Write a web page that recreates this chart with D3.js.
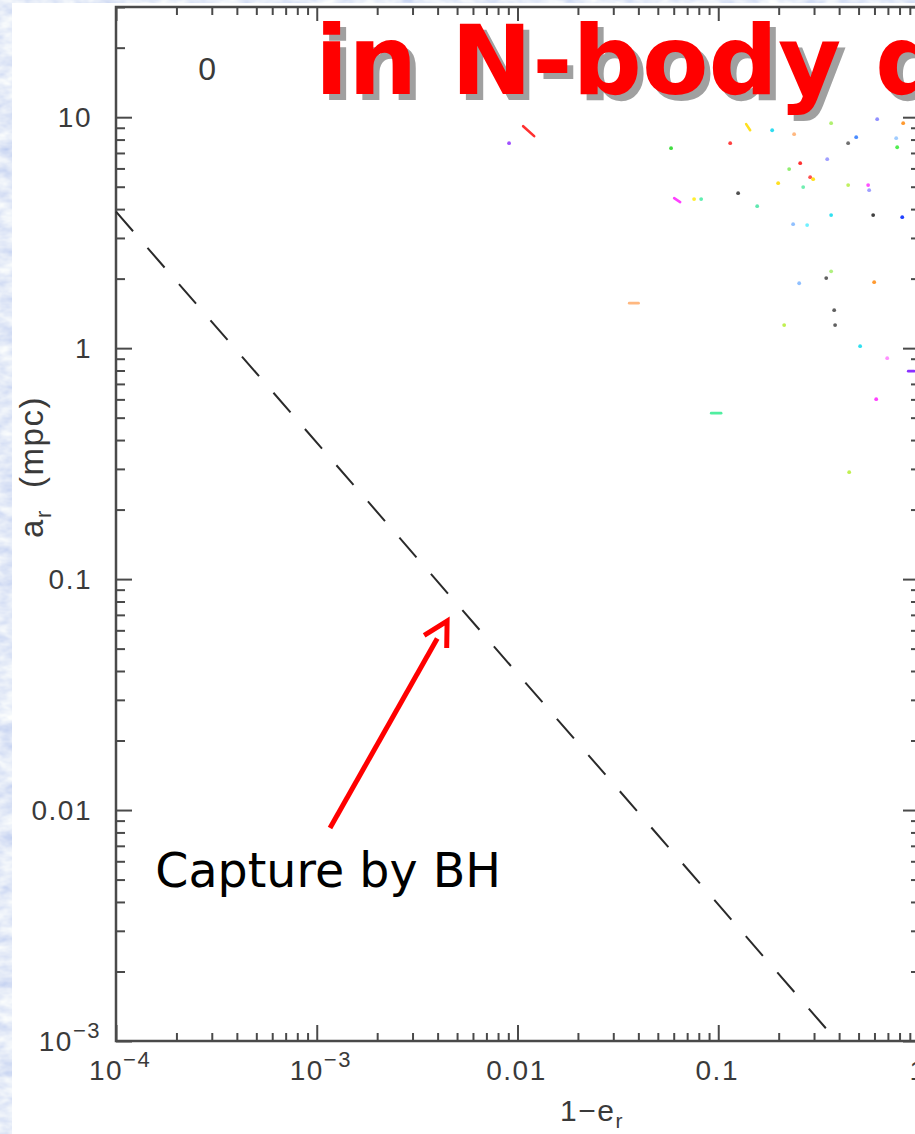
<!DOCTYPE html>
<html>
<head>
<meta charset="utf-8">
<script src="https://cdn.jsdelivr.net/npm/d3@7"></script>
<style>
  html, body { margin: 0; padding: 0; overflow: hidden; background: #fff; }
  svg { display: block; }
  .lbl { font-family: "Liberation Sans", Arial, sans-serif; fill: #3a3a3a; letter-spacing: 1.5px; }
</style>
</head>
<body>
<svg id="chart" width="915" height="1134"></svg>
<script>
(function () {
  "use strict";

  // axis ticks : x = 1 - e_r, y = a_r (mpc)
  const xTicks = [1e-4, 1e-3, 0.01, 0.1, 1];
  const xTickBase = ['10', '10', '0.01', '0.1', '1'];
  const xTickExp = ['\u22124', '\u22123', '', '', ''];
  const yTicks = [1e-3, 0.01, 0.1, 1, 10];
  const yTickBase = ['10', '0.01', '0.1', '1', '10'];
  const yTickExp = ['\u22123', '', '', '', ''];

  // single stars (1-e_r, a_r)
  const dotX = [0.00908, 0.0582, 0.1856, 0.2388, 0.365, 0.619, 0.834, 0.1147, 0.4866, 0.4437,
    0.7697, 0.7786, 0.256, 0.349, 0.2255, 0.287, 0.297, 0.1988, 0.2649, 0.4437,
    0.558, 0.5646, 0.1256, 0.0758, 0.0822, 0.1563, 0.365, 0.591, 0.825, 0.236,
    0.2772, 0.365, 0.345, 0.253, 0.598, 0.378, 0.382, 0.213, 0.509, 0.6945,
    0.612, 0.449];
  const dotY = [7.72, 7.34, 8.78, 8.44, 9.42, 9.80, 9.42, 7.72, 8.19, 7.72,
    8.11, 7.41, 6.32, 6.58, 5.96, 5.50, 5.39, 5.18, 4.98, 5.08,
    5.08, 4.83, 4.69, 4.42, 4.42, 4.12, 3.77, 3.77, 3.69, 3.44,
    3.41, 2.15, 2.01, 1.91, 1.93, 1.46, 1.258, 1.258, 1.02, 0.905,
    0.601, 0.2905];
  const dotColor = ['#a050ff', '#40dd40', '#30dcf0', '#ffb880', '#b0f070', '#9090ff', '#ff9a30', '#ff4040', '#4a8cff', '#707070',
    '#a0ccff', '#50ee50', '#ff3030', '#a0a0ff', '#90ee70', '#ff5050', '#ffe020', '#ffe020', '#70eeb0', '#c0f060',
    '#ff50ff', '#a0a0ff', '#505050', '#ffee30', '#60eeb0', '#60e8b0', '#30e0f0', '#404040', '#2040ff', '#90c0ff',
    '#70f0ff', '#b0f080', '#606060', '#90c0ff', '#ff9a30', '#606060', '#606060', '#c0f050', '#30e0f0', '#ff90ff',
    '#ff40ff', '#c0f050'];

  // short tracks (start -> end)
  const trackX1 = [0.01067, 0.1377, 0.0603, 0.0360, 0.0922, 0.8835];
  const trackY1 = [9.14, 9.33, 4.46, 1.566, 0.523, 0.795];
  const trackX2 = [0.01211, 0.1442, 0.0646, 0.0401, 0.1034, 0.9465];
  const trackY2 = [8.28, 8.78, 4.29, 1.566, 0.523, 0.795];
  const trackColor = ['#ff3030', '#ffe020', '#ff40ff', '#ffb880', '#50eea0', '#8a30ff'];

  // capture by BH boundary, a(1-e) = const
  const captureX = [1e-4, 0.39];
  const captureY = [3.9, 1e-3];

  // annotation anchors (data coords)
  const arrowFrom = [0.001164, 0.00836];
  const arrowTo = [0.00446, 0.0658];
  const noteAt = [1.57e-4, 0.00464];

  let svg = d3.select('#chart'),
    width = +svg.attr('width'),
    height = +svg.attr('height'),
    plotLeft = 116,
    plotRight = 919,
    plotTop = 7,
    plotBottom = 1041;

  /*
   * background : slide texture + white panel
   */
  let defs = svg.append('defs');
  let marble = defs.append('filter').attr('id', 'marble')
    .attr('x', 0).attr('y', 0).attr('width', 1).attr('height', 1);
  marble.append('feTurbulence')
    .attr('type', 'fractalNoise')
    .attr('baseFrequency', '0.05 0.09')
    .attr('numOctaves', 3)
    .attr('seed', 7);
  marble.append('feColorMatrix')
    .attr('type', 'matrix')
    .attr('values', '0.6 0 0 0 0.48  0.5 0 0 0 0.58  0.15 0 0 0 0.86  0 0 0 0 1');

  svg.append('rect')
    .attr('width', width).attr('height', height)
    .attr('fill', '#c4d4f2');
  svg.append('rect')
    .attr('width', width).attr('height', height)
    .attr('filter', 'url(#marble)');
  svg.append('rect')
    .attr('x', 12).attr('y', 3)
    .attr('width', width - 12).attr('height', height - 3)
    .attr('fill', '#fff');

  /*
   * scales
   */
  let scaleX = d3.scaleLog()
    .domain([1e-4, 1])
    .range([plotLeft, plotRight]);

  let scaleY = d3.scaleLog()
    .domain([1e-3, 30])
    .range([plotBottom, plotTop]);

  function isMajor(v) {
    let l = Math.log10(v);
    return Math.abs(l - Math.round(l)) < 1e-6;
  }
  let xMinor = scaleX.ticks().filter(function (d) { return !isMajor(d); });
  let yMinor = scaleY.ticks().filter(function (d) { return !isMajor(d); });
  let yMajor = scaleY.ticks().filter(isMajor);

  /*
   * axes (ticks on all four sides, pointing inward)
   */
  function tickGroup(axis, transform) {
    svg.append('g')
      .attr('transform', transform)
      .attr('color', '#4a4a4a')
      .call(axis)
      .call(function (g) {
        g.select('.domain').remove();
        g.selectAll('line').attr('stroke-width', 2);
        g.selectAll('text').remove();
      });
  }

  tickGroup(d3.axisBottom(scaleX).tickValues(xTicks).tickSize(-16), 'translate(0,' + plotBottom + ')');
  tickGroup(d3.axisBottom(scaleX).tickValues(xMinor).tickSize(-8), 'translate(0,' + plotBottom + ')');
  tickGroup(d3.axisTop(scaleX).tickValues(xTicks).tickSize(-14), 'translate(0,' + plotTop + ')');
  tickGroup(d3.axisTop(scaleX).tickValues(xMinor).tickSize(-8), 'translate(0,' + plotTop + ')');
  tickGroup(d3.axisLeft(scaleY).tickValues(yMajor).tickSize(-16), 'translate(' + plotLeft + ',0)');
  tickGroup(d3.axisLeft(scaleY).tickValues(yMinor).tickSize(-9), 'translate(' + plotLeft + ',0)');
  tickGroup(d3.axisRight(scaleY).tickValues(yMajor).tickSize(-16), 'translate(' + plotRight + ',0)');
  tickGroup(d3.axisRight(scaleY).tickValues(yMinor).tickSize(-8), 'translate(' + plotRight + ',0)');

  svg.append('rect')
    .attr('x', plotLeft).attr('y', plotTop)
    .attr('width', plotRight - plotLeft)
    .attr('height', plotBottom - plotTop)
    .attr('fill', 'none')
    .attr('stroke', '#4a4a4a')
    .attr('stroke-width', 2.5);

  /*
   * tick labels
   */
  let xLabels = svg.append('g').attr('class', 'lbl');
  xTicks.forEach(function (v, i) {
    let t = xLabels.append('text')
      .attr('x', scaleX(v) + (xTickExp[i] ? 4 : -1))
      .attr('y', 1080)
      .attr('text-anchor', 'middle')
      .attr('font-size', 28);
    t.append('tspan').text(xTickBase[i]);
    if (xTickExp[i]) {
      t.append('tspan').attr('dy', -13).attr('font-size', 22).text(xTickExp[i]);
    }
  });

  let yLabels = svg.append('g').attr('class', 'lbl');
  yTicks.forEach(function (v, i) {
    let t = yLabels.append('text')
      .attr('x', yTickExp[i] ? 101 : 92)
      .attr('y', scaleY(v) + 10)
      .attr('text-anchor', 'end')
      .attr('font-size', 28);
    t.append('tspan').text(yTickBase[i]);
    if (yTickExp[i]) {
      t.append('tspan').attr('dy', -13).attr('font-size', 22).text(yTickExp[i]);
    }
  });

  // axis titles
  let xTitle = svg.append('text')
    .attr('class', 'lbl')
    .attr('x', 560).attr('y', 1121)
    .attr('font-size', 30);
  xTitle.append('tspan').text('1\u2212e');
  xTitle.append('tspan').attr('dy', 7).attr('font-size', 21).text('r');

  let yTitle = svg.append('text')
    .attr('class', 'lbl')
    .attr('transform', 'translate(43,467) rotate(-90)')
    .attr('text-anchor', 'middle')
    .attr('font-size', 33)
    .attr('letter-spacing', 2.5);
  yTitle.append('tspan').text('a');
  yTitle.append('tspan').attr('dy', 8).attr('font-size', 22).text('r');
  yTitle.append('tspan').attr('dy', -8).text('\u00a0 (mpc)');

  svg.append('text')
    .attr('class', 'lbl')
    .attr('x', 208).attr('y', 80)
    .attr('text-anchor', 'middle')
    .attr('font-size', 32)
    .text('0');

  /*
   * capture line
   */
  let line = d3.line()
    .x(function (d) { return scaleX(d[0]); })
    .y(function (d) { return scaleY(d[1]); });

  svg.append('path')
    .datum(d3.zip(captureX, captureY))
    .attr('d', line)
    .attr('fill', 'none')
    .attr('stroke', '#2a2a2a')
    .attr('stroke-width', 2)
    .attr('stroke-dasharray', '26 22');

  /*
   * stars
   */
  svg.append('g')
    .selectAll('line')
    .data(d3.range(trackX1.length))
    .enter()
    .append('line')
    .attr('x1', function (i) { return scaleX(trackX1[i]); })
    .attr('y1', function (i) { return scaleY(trackY1[i]); })
    .attr('x2', function (i) { return scaleX(trackX2[i]); })
    .attr('y2', function (i) { return scaleY(trackY2[i]); })
    .attr('stroke', function (i) { return trackColor[i]; })
    .attr('stroke-width', 2.6)
    .attr('stroke-linecap', 'round');

  svg.append('g')
    .selectAll('circle')
    .data(d3.range(dotX.length))
    .enter()
    .append('circle')
    .attr('cx', function (i) { return scaleX(dotX[i]); })
    .attr('cy', function (i) { return scaleY(dotY[i]); })
    .attr('r', 1.9)
    .attr('fill', function (i) { return dotColor[i]; });

  /*
   * slide title with drop shadow
   */
  let title = 'in N-body d';
  svg.append('text')
    .attr('x', 321).attr('y', 100)
    .attr('font-family', '"DejaVu Sans", Verdana, sans-serif')
    .attr('font-weight', 'bold')
    .attr('font-size', 97)
    .attr('fill', '#a0a0a0')
    .text(title);
  svg.append('text')
    .attr('x', 315).attr('y', 94)
    .attr('font-family', '"DejaVu Sans", Verdana, sans-serif')
    .attr('font-weight', 'bold')
    .attr('font-size', 97)
    .attr('fill', '#ff0000')
    .text(title);

  /*
   * annotation : arrow + note
   */
  let ax1 = scaleX(arrowFrom[0]), ay1 = scaleY(arrowFrom[1]),
    ax2 = scaleX(arrowTo[0]), ay2 = scaleY(arrowTo[1]),
    ang = Math.atan2(ay1 - ay2, ax1 - ax2),
    headLen = 27, headAng = 0.5;

  svg.append('line')
    .attr('x1', ax1).attr('y1', ay1)
    .attr('x2', ax2 + Math.cos(ang) * 20)
    .attr('y2', ay2 + Math.sin(ang) * 20)
    .attr('stroke', '#ff0000')
    .attr('stroke-width', 5);

  svg.append('path')
    .attr('d', d3.line()([
      [ax2 + Math.cos(ang + headAng) * headLen, ay2 + Math.sin(ang + headAng) * headLen],
      [ax2, ay2],
      [ax2 + Math.cos(ang - headAng) * headLen, ay2 + Math.sin(ang - headAng) * headLen]
    ]))
    .attr('fill', 'none')
    .attr('stroke', '#ff0000')
    .attr('stroke-width', 5);

  svg.append('text')
    .attr('x', scaleX(noteAt[0]))
    .attr('y', scaleY(noteAt[1]))
    .attr('font-family', '"DejaVu Sans", Verdana, sans-serif')
    .attr('font-size', 47.5)
    .attr('fill', '#000')
    .text('Capture by BH');
}());
</script>
</body>
</html>
